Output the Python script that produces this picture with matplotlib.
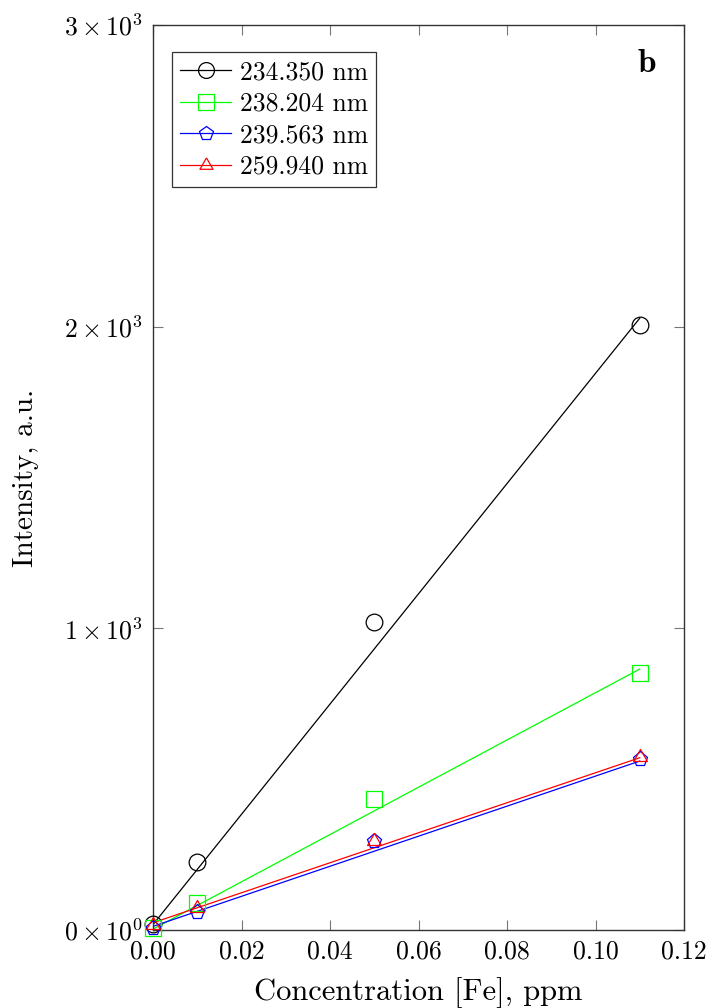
import matplotlib
matplotlib.use("Agg")
import matplotlib.pyplot as plt
from matplotlib.lines import Line2D

plt.rcParams["font.family"] = "serif"
plt.rcParams["font.serif"] = ["cmr10"]
plt.rcParams["mathtext.fontset"] = "cm"
plt.rcParams["axes.unicode_minus"] = False

# Fe calibration data (concentration in ppm, emission intensity in a.u.)
conc = [0.0, 0.01, 0.05, 0.11]
labels = ["234.350 nm", "238.204 nm", "239.563 nm", "259.940 nm"]
int_234 = [20, 225, 1022, 2004]
int_238 = [5, 88, 434, 852]
int_239 = [7, 60, 294, 568]
int_259 = [17, 72, 296, 572]

# linear calibration fits, evaluated at the ends of the concentration range
fit_x = [0.0, 0.11]
fit_234 = [18, 2028]
fit_238 = [3, 865]
fit_239 = [12, 560]
fit_259 = [24, 571]

colors = ["black", "#00ff00", "#0000ff", "#ff0000"]
triangle = [(0, 1), (-0.866, -0.5), (0.866, -0.5), (0, 1)]
markers = ["o", "s", "p", triangle]
msizes = [12, 11.5, 11, 11.5]

xticks = [0.0, 0.02, 0.04, 0.06, 0.08, 0.10, 0.12]
xtick_labels = ["0.00", "0.02", "0.04", "0.06", "0.08", "0.10", "0.12"]
yticks = [0, 1000, 2000, 3000]
ytick_labels = [r"$0\times10^{0}$", r"$1\times10^{3}$", r"$2\times10^{3}$", r"$3\times10^{3}$"]

fig = plt.figure(figsize=(7.10, 10.08), dpi=100)
ax = fig.add_axes([153 / 710, 1 - 930 / 1008, 531 / 710, 905 / 1008])

series = [int_234, int_238, int_239, int_259]
fits = [fit_234, fit_238, fit_239, fit_259]
handles = []
for ys, fy, c, m, ms, lab in zip(series, fits, colors, markers, msizes, labels):
    ax.plot(fit_x, fy, color=c, lw=0.9, zorder=2)
    ax.plot(conc, ys, linestyle="none", marker=m, ms=ms, mfc="none", mec=c,
            mew=0.9, clip_on=False, zorder=3)
    handles.append(Line2D([], [], color=c, lw=0.9, marker=m, ms=ms * 0.95,
                          mfc="none", mec=c, mew=0.9, label=lab))

ax.set_xlim(0, 0.12)
ax.set_ylim(0, 3000)
ax.set_xticks(xticks)
ax.set_xticklabels(xtick_labels)
ax.set_yticks(yticks)
ax.set_yticklabels(ytick_labels)
ax.tick_params(direction="in", length=7, width=0.8, color="#777777",
               top=True, right=True, labelsize=18.5, pad=7)
for sp in ax.spines.values():
    sp.set_linewidth(1.0)
    sp.set_color("#333333")

ax.set_xlabel("Concentration [Fe], ppm", fontsize=22, labelpad=10)
ax.set_ylabel("Intensity, a.u.", fontsize=21, labelpad=18)

leg = ax.legend(handles=handles, loc="upper left",
                bbox_to_anchor=(19 / 531, (930 - 52) / 905),
                borderaxespad=0, fontsize=18.5, handlelength=1.95,
                handletextpad=0.35, labelspacing=0.3, borderpad=0.33,
                fancybox=False, framealpha=1, edgecolor="#333333")
leg.get_frame().set_linewidth(0.9)

ax.text((647 - 153) / 531, (930 - 63) / 905, r"$\mathbf{b}$", transform=ax.transAxes,
        fontsize=24, ha="center", va="center")

fig.savefig("out.png", dpi=100)
